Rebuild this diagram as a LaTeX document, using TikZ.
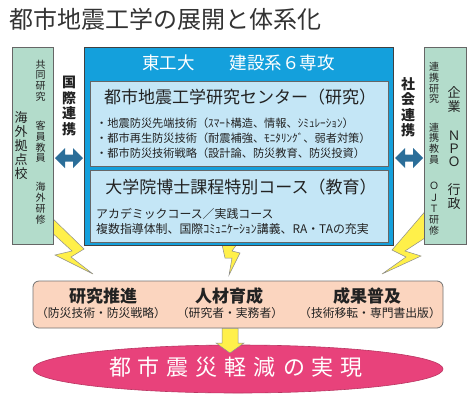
\documentclass[tikz,border=0pt]{standalone}
\usepackage{fontspec}
\setmainfont{Noto Sans CJK JP}
\usetikzlibrary{shapes.geometric}
\definecolor{mint}{HTML}{B3DCCB}
\definecolor{bluebox}{HTML}{14A0DC}
\definecolor{lightblue}{HTML}{C4E6F6}
\definecolor{arrowblue}{HTML}{2B6E99}
\definecolor{boltyellow}{HTML}{FFF04A}
\definecolor{peach}{HTML}{FBD5BF}
\definecolor{goalpink}{HTML}{E8427B}
\definecolor{txt}{HTML}{222222}
\begin{document}
\begin{tikzpicture}[x=1pt,y=-1pt,
  sidebox/.style={draw=black!60, fill=mint, line width=0.8pt, inner sep=0},
  bigblue/.style={draw=black!75, fill=bluebox, line width=0.8pt, inner sep=0},
  innerbox/.style={draw=black!60, fill=lightblue, line width=0.8pt, inner sep=0},
  boltshape/.style={fill=boltyellow, draw=black!45, line width=0.5pt, line join=miter},
  dblarrow/.style={fill=arrowblue},
  vtext/.style={align=center, inner sep=0, text=txt},
  line/.style={anchor=west, inner sep=0, text=txt, font=\fontsize{11.2}{12}\selectfont},
  head/.style={inner sep=0, text=txt, font=\bfseries\fontsize{17}{18}\selectfont},
  sub/.style={inner sep=0, text=txt, font=\fontsize{11.8}{12}\selectfont}]
\useasboundingbox (0,0) rectangle (476,402);
\fill[white] (0,0) rectangle (476,402);

% title
\node[anchor=west, inner sep=0, text=black!80, font=\fontsize{24}{26}\selectfont] (title) at (9,19) {都市地震工学の展開と体系化};

% lightning bolts (behind boxes)
\draw[boltshape] (48,214) -- (84,249) -- (71,257) -- (93,274) -- (55,255) -- (72,251) -- (48,229) -- cycle;
\draw[boltshape] (221,240) -- (225,258) -- (232,258) -- (229,275) -- (240,253) -- (232,251) -- (240,240) -- cycle;
\draw[boltshape] (428,208) -- (392,250) -- (406,257) -- (382,274) -- (421,256) -- (405,251) -- (428,236) -- cycle;

% side boxes
\node[sidebox, minimum width=41pt, minimum height=197pt] (left) at (32.5,145.5) {};
\node[sidebox, minimum width=42pt, minimum height=197pt] (right) at (445,145.5) {};

% left box texts
\node[vtext, font=\fontsize{10}{10.8}\selectfont] (l1) at (40.5,80.5) {共\\同\\研\\究};
\node[vtext, font=\fontsize{10}{10.8}\selectfont] (l2) at (40.5,142) {客\\員\\教\\員};
\node[vtext, font=\fontsize{10}{10.8}\selectfont] (l3) at (40.5,203) {海\\外\\研\\修};
\node[vtext, font=\fontsize{13}{14.2}\selectfont] (l4) at (21,145.5) {海\\外\\拠\\点\\校};

% right box texts
\node[vtext, font=\fontsize{10}{10.8}\selectfont] (r1) at (434,83) {連\\携\\研\\究};
\node[vtext, font=\fontsize{10}{10.8}\selectfont] (r2) at (434,143.5) {連\\携\\教\\員};
\node[vtext, font=\fontsize{10}{11.2}\selectfont] (r3) at (434,209) {Ｏ\\Ｊ\\Ｔ\\研\\修};
\node[vtext, font=\fontsize{13}{13.5}\selectfont] (r4) at (454,99.5) {企\\業};
\node[vtext, font=\fontsize{13}{13}\selectfont] (r5) at (454,148.5) {Ｎ\\Ｐ\\Ｏ};
\node[vtext, font=\fontsize{13}{13.5}\selectfont] (r6) at (454,196.5) {行\\政};

% linkage labels
\node[vtext, font=\bfseries\fontsize{14}{15.5}\selectfont] (kokusai) at (69,106) {国\\際\\連\\携};
\node[vtext, font=\bfseries\fontsize{14}{15.5}\selectfont] (shakai) at (408,107) {社\\会\\連\\携};

% big blue box
\node[bigblue, minimum width=309pt, minimum height=198pt] (blue) at (238.5,146) {};
\node[inner sep=0, text=white, font=\fontsize{17.5}{18}\selectfont] (hdr) at (238.5,62.5) {東工大　　建設系６専攻};

% research box
\node[innerbox, minimum width=298pt, minimum height=85pt] (res) at (239,123.5) {};
\node[inner sep=0, text=txt, font=\fontsize{17}{18}\selectfont] (restitle) at (240,97) {都市地震工学研究センター（研究）};
\node[line] (b1) at (96,123) {・地震防災先端技術（ｽﾏｰﾄ構造、情報、ｼﾐｭﾚｰｼｮﾝ）};
\node[line] (b2) at (96,138) {・都市再生防災技術（耐震補強、ﾓﾆﾀﾘﾝｸﾞ、弱者対策）};
\node[line] (b3) at (96,153) {・都市防災技術戦略（設計論、防災教育、防災投資）};

% education box
\node[innerbox, minimum width=298pt, minimum height=72pt] (edu) at (239,206) {};
\node[inner sep=0, text=txt, font=\fontsize{17}{18}\selectfont] (edutitle) at (241,187) {大学院博士課程特別コース（教育）};
\node[line, font=\fontsize{11.9}{12}\selectfont] (e1) at (96,214) {アカデミックコース／実践コース};
\node[line, font=\fontsize{11.9}{12}\selectfont] (e2) at (96,228.5) {複数指導体制、国際ｺﾐｭﾆｹｰｼｮﾝ講義、RA・TAの充実};

% double arrows
\fill[dblarrow] (55,158) -- (65,148) -- (65,154.5) -- (73,154.5) -- (73,148) -- (83,158) -- (73,168) -- (73,161.5) -- (65,161.5) -- (65,168) -- cycle;
\fill[dblarrow] (395,158) -- (405,148) -- (405,154.5) -- (413,154.5) -- (413,148) -- (423,158) -- (413,168) -- (413,161.5) -- (405,161.5) -- (405,168) -- cycle;

% outcomes box
\node[draw=black!55, fill=peach, line width=0.8pt, rounded corners=6pt, minimum width=410pt, minimum height=47pt, inner sep=0] (out) at (238,304.5) {};
\node[head] (o1) at (103,296) {研究推進};
\node[sub] (o1s) at (101,313) {（防災技術・防災戦略）};
\node[head] (o2) at (229,296) {人材育成};
\node[sub] (o2s) at (230,313) {（研究者・実務者）};
\node[head] (o3) at (367,296) {成果普及};
\node[sub] (o3s) at (370,313) {（技術移転・専門書出版）};

% goal ellipse
\node[ellipse, draw=goalpink!80!black, fill=goalpink, line width=0.6pt, minimum width=410pt, minimum height=48pt, inner sep=0] (goal) at (238,369) {};
\node[inner sep=0, text=white, font=\fontsize{22}{24}\selectfont] (goaltext) at (236,367) {都\hspace{7pt}市\hspace{7pt}震\hspace{7pt}災\hspace{7pt}軽\hspace{7pt}減\hspace{7pt}の\hspace{7pt}実\hspace{7pt}現};

% down arrow
\draw[fill=boltyellow, draw=black!45, line width=0.5pt] (out.south -| 222,0) -- (out.south -| 238,0) -- (238,343) -- (244,343) -- (230,353) -- (216,343) -- (222,343) -- cycle;
\end{tikzpicture}
\end{document}
